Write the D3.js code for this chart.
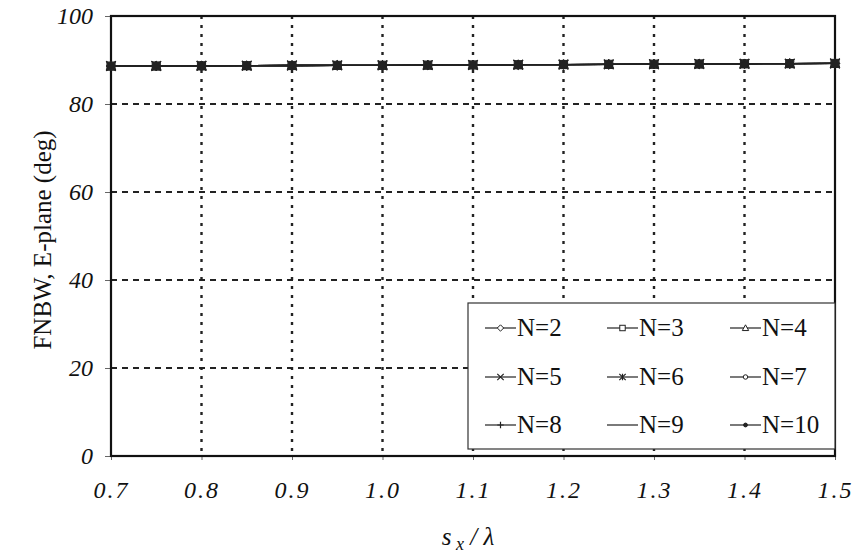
<!DOCTYPE html>
<html><head><meta charset="utf-8">
<script src="https://cdn.jsdelivr.net/npm/d3@7"></script>
<style>
body{margin:0;background:#fff;}
text{font-family:"Liberation Serif","Times New Roman",Times,serif;fill:#111;}
</style></head><body>
<svg id="chart" width="853" height="557"></svg>
<script>
// ---------- data ----------
const sx = [0.70,0.75,0.80,0.85,0.90,0.95,1.00,1.05,1.10,1.15,1.20,1.25,1.30,1.35,1.40,1.45,1.50];
const seriesNames = ["N=2","N=3","N=4","N=5","N=6","N=7","N=8","N=9","N=10"];
const fnbwN2  = [88.62,88.64,88.68,88.71,88.75,88.78,88.80,88.84,88.88,88.93,88.97,89.01,89.05,89.10,89.14,89.18,89.22];
const fnbwN3  = [88.62,88.64,88.68,88.71,88.75,88.78,88.80,88.84,88.88,88.93,88.97,89.01,89.05,89.10,89.14,89.18,89.22];
const fnbwN4  = [88.62,88.64,88.68,88.71,88.75,88.78,88.80,88.84,88.88,88.93,88.97,89.01,89.05,89.10,89.14,89.18,89.22];
const fnbwN5  = [88.62,88.64,88.68,88.71,88.75,88.78,88.80,88.84,88.88,88.93,88.97,89.01,89.05,89.10,89.14,89.18,89.22];
const fnbwN6  = [88.62,88.64,88.68,88.71,88.75,88.78,88.80,88.84,88.88,88.93,88.97,89.01,89.05,89.10,89.14,89.18,89.22];
const fnbwN7  = [88.62,88.64,88.68,88.71,88.75,88.78,88.80,88.84,88.88,88.93,88.97,89.01,89.05,89.10,89.14,89.18,89.22];
const fnbwN8  = [88.62,88.64,88.68,88.71,88.75,88.78,88.80,88.84,88.88,88.93,88.97,89.01,89.05,89.10,89.14,89.18,89.22];
const fnbwN9  = [88.62,88.64,88.68,88.71,88.75,88.78,88.80,88.84,88.88,88.93,88.97,89.01,89.05,89.10,89.14,89.18,89.22];
const fnbwN10 = [88.62,88.64,88.68,88.71,88.75,88.78,88.80,88.84,88.88,88.93,88.97,89.01,89.05,89.10,89.14,89.18,89.22];
const xTicks = [0.7,0.8,0.9,1.0,1.1,1.2,1.3,1.4,1.5];
const xTickLabels = ["0.7","0.8","0.9","1.0","1.1","1.2","1.3","1.4","1.5"];
const yTicks = [0,20,40,60,80,100];
const markers = ["diamond","square","triangle","x","asterisk","circle","plus","none","dot"];

const seriesValues = [fnbwN2,fnbwN3,fnbwN4,fnbwN5,fnbwN6,fnbwN7,fnbwN8,fnbwN9,fnbwN10];
const series = seriesNames.map((n,i)=>({name:n, marker:markers[i], values:sx.map((x,j)=>({x, y:seriesValues[i][j]}))}));

// ---------- layout ----------
const svg = d3.select("#chart");
const L = 111, R = 835, T = 16, B = 456;
const x = d3.scaleLinear().domain([0.7,1.5]).range([L,R]);
const y = d3.scaleLinear().domain([0,100]).range([B,T]);

// grid
svg.append("g").selectAll("line").data(yTicks.filter(d=>d>0&&d<100)).join("line")
  .attr("x1",L).attr("x2",R).attr("y1",d=>y(d)).attr("y2",d=>y(d))
  .attr("stroke","#222").attr("stroke-width",1.8).attr("stroke-dasharray","6,5");
svg.append("g").selectAll("line").data(xTicks.filter(d=>d>0.7&&d<1.5)).join("line")
  .attr("x1",d=>x(d)).attr("x2",d=>x(d)).attr("y1",T).attr("y2",B)
  .attr("stroke","#222").attr("stroke-width",2.4).attr("stroke-dasharray","3,6");

// axes
const yAxis = d3.axisLeft(y).tickValues(yTicks).tickSize(6).tickFormat(d3.format("d"));
const gy = svg.append("g").attr("transform",`translate(${L},0)`).call(yAxis);
gy.select(".domain").remove();
gy.selectAll(".tick line").attr("stroke","#666").attr("stroke-width",1);
gy.selectAll(".tick text").attr("x",-18).attr("font-size",24).attr("font-style","italic").attr("fill","#111");

const xAxis = d3.axisBottom(x).tickValues(xTicks).tickSize(4).tickFormat((d,i)=>xTickLabels[i]);
const gx = svg.append("g").attr("transform",`translate(0,${B})`).call(xAxis);
gx.select(".domain").remove();
gx.selectAll(".tick line").attr("stroke","#666").attr("stroke-width",1);
gx.selectAll(".tick text").attr("y",42).attr("dy",0).attr("font-size",24).attr("font-style","italic")
  .attr("letter-spacing",2).attr("fill","#111");

// frame
svg.append("rect").attr("x",L).attr("y",T).attr("width",R-L).attr("height",B-T)
  .attr("fill","none").attr("stroke","#111").attr("stroke-width",2.2);

// marker drawing
function drawMarker(g, type, s, filledPlot){
  const st = "#222";
  if(type==="diamond") g.append("path").attr("d",`M0,${-s}L${s},0L0,${s}L${-s},0Z`).attr("fill",filledPlot?"#333":"#fff").attr("stroke",st);
  else if(type==="square") g.append("rect").attr("x",-s*0.85).attr("y",-s*0.85).attr("width",s*1.7).attr("height",s*1.7).attr("fill",filledPlot?"#333":"#fff").attr("stroke",st);
  else if(type==="triangle") g.append("path").attr("d",`M0,${-s}L${s},${s*0.8}L${-s},${s*0.8}Z`).attr("fill",filledPlot?"#333":"#fff").attr("stroke",st);
  else if(type==="x") g.append("path").attr("d",`M${-s},${-s}L${s},${s}M${-s},${s}L${s},${-s}`).attr("stroke",st).attr("stroke-width",1.2);
  else if(type==="asterisk") g.append("path").attr("d",`M${-s},${-s}L${s},${s}M${-s},${s}L${s},${-s}M0,${-s}L0,${s}`).attr("stroke",st).attr("stroke-width",1.2);
  else if(type==="circle") g.append("circle").attr("r",s*0.7).attr("fill",filledPlot?"#333":"#fff").attr("stroke",st);
  else if(type==="plus") g.append("path").attr("d",`M${-s},0L${s},0M0,${-s}L0,${s}`).attr("stroke",st).attr("stroke-width",1.2);
  else if(type==="dot") g.append("circle").attr("r",s*0.6).attr("fill",st).attr("stroke",st);
}

// series
const line = d3.line().x(d=>x(d.x)).y(d=>y(d.y));
series.forEach(s=>{
  svg.append("path").datum(s.values).attr("d",line).attr("fill","none").attr("stroke","#222").attr("stroke-width",1.3);
});
series.forEach(s=>{
  s.values.forEach(v=>{
    const g = svg.append("g").attr("transform",`translate(${x(v.x)},${y(v.y)})`);
    drawMarker(g, s.marker, 4.8, true);
  });
});

// legend
const lgX = 468, lgY = 303, lgW = 367, lgH = 146;
svg.append("rect").attr("x",lgX).attr("y",lgY).attr("width",lgW).attr("height",lgH)
  .attr("fill","#fff").attr("stroke","#333").attr("stroke-width",1.2);
const colX = [485,607,730], rowY = [328,377,425];
series.forEach((s,i)=>{
  const cx = colX[i%3], cy = rowY[Math.floor(i/3)];
  const g = svg.append("g").attr("transform",`translate(${cx},${cy})`);
  g.append("line").attr("x1",0).attr("x2",31).attr("y1",0).attr("y2",0).attr("stroke","#222").attr("stroke-width",1.2);
  const mg = g.append("g").attr("transform","translate(15.5,0)");
  drawMarker(mg, s.marker, 3.2, false);
  g.append("text").attr("x",32).attr("y",8).attr("font-size",25).text(s.name);
});

// axis titles
svg.append("text").attr("transform","translate(51,240) rotate(-90)").attr("text-anchor","middle")
  .attr("font-size",25).text("FNBW, E-plane (deg)");
const xt = svg.append("text").attr("x",468).attr("y",545).attr("text-anchor","middle").attr("font-size",25).attr("font-style","italic");
xt.append("tspan").text("s");
xt.append("tspan").attr("dy",5).attr("font-size",18).text(" x");
xt.append("tspan").attr("dy",-5).text(" / λ");
</script>
</body></html>
